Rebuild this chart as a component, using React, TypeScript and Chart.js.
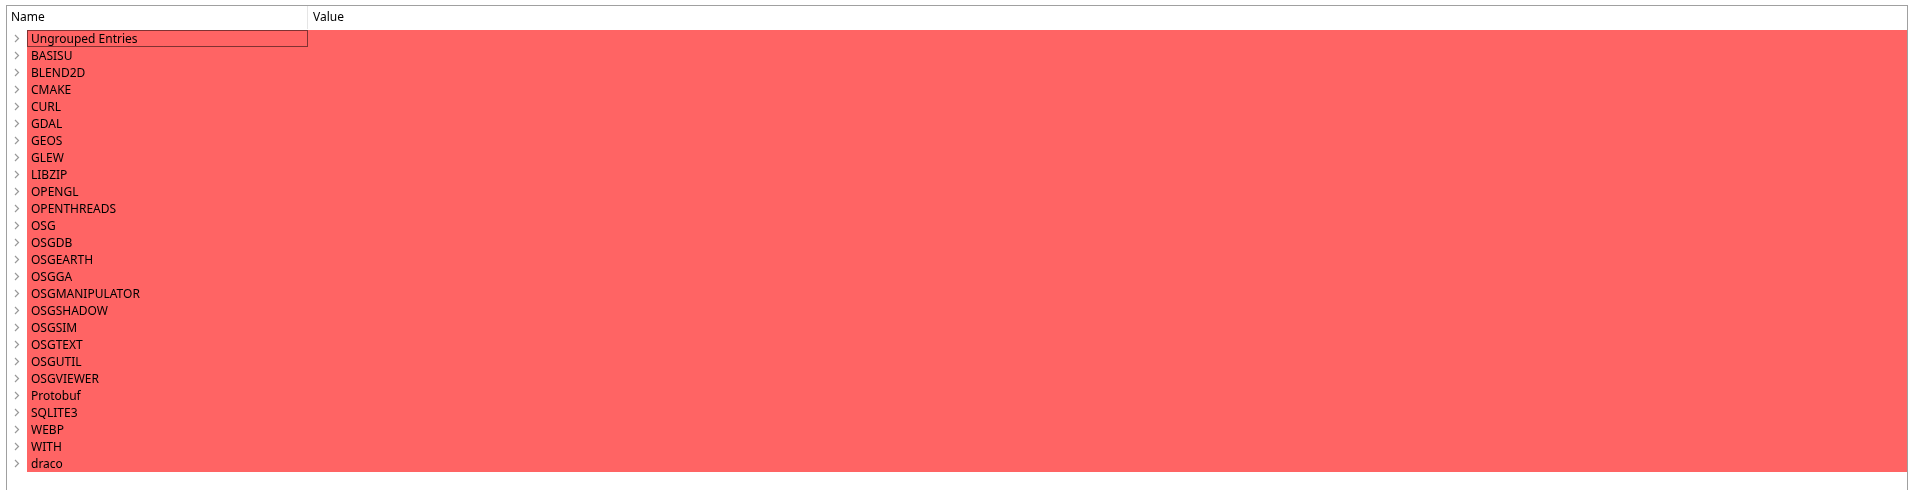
import { useEffect, useRef } from "react"
import { Chart, registerables } from "chart.js"

Chart.register(...registerables)

const entryNames = [
  "Ungrouped Entries", "BASISU", "BLEND2D", "CMAKE", "CURL", "GDAL", "GEOS", "GLEW", "LIBZIP",
  "OPENGL", "OPENTHREADS", "OSG", "OSGDB", "OSGEARTH", "OSGGA", "OSGMANIPULATOR", "OSGSHADOW",
  "OSGSIM", "OSGTEXT", "OSGUTIL", "OSGVIEWER", "Protobuf", "SQLITE3", "WEBP", "WITH", "draco",
]
const entryValues = entryNames.map(() => 1)
const columnTitles = ["Name", "Value"]

const FONT = '12px "Noto Sans", "Open Sans", sans-serif'

const treePlugin = {
  id: "tree",
  beforeDraw(chart) {
    const { ctx, width, height } = chart
    ctx.save()
    ctx.fillStyle = "#fff"
    ctx.fillRect(0, 0, width, height)
    ctx.restore()
  },
  afterDatasetsDraw(chart) {
    const { ctx, width, height } = chart
    const y = chart.scales.y
    ctx.save()
    // frame
    ctx.strokeStyle = "#a0a0a0"
    ctx.lineWidth = 1
    ctx.strokeRect(6.5, 5.5, width - 12, height)
    // header
    ctx.strokeStyle = "#e5e5e5"
    ctx.beginPath()
    ctx.moveTo(307.5, 6)
    ctx.lineTo(307.5, 29)
    ctx.stroke()
    ctx.font = FONT
    ctx.fillStyle = "#000"
    ctx.textBaseline = "middle"
    ctx.fillText(columnTitles[0], 11, 18)
    ctx.fillText(columnTitles[1], 313, 18)
    // rows
    entryNames.forEach((name, i) => {
      const cy = y.getPixelForValue(i)
      ctx.fillStyle = "#000"
      ctx.fillText(name, 31, cy + 1)
      ctx.strokeStyle = "#999"
      ctx.lineWidth = 1.2
      ctx.beginPath()
      ctx.moveTo(15, cy - 3.5)
      ctx.lineTo(18.5, cy)
      ctx.lineTo(15, cy + 3.5)
      ctx.stroke()
    })
    // focus rectangle
    const top = y.getPixelForValue(0) - 8.5
    ctx.strokeStyle = "#000"
    ctx.lineWidth = 1
    ctx.setLineDash([1, 1])
    ctx.strokeRect(27.5, Math.round(top) + 0.5, 280, 16)
    ctx.restore()
  },
}

export default function App() {
  const chartRef = useRef(null)
  const chartInstance = useRef(null)

  useEffect(() => {
    document.body.style.margin = "0"
    if (chartRef.current) {
      if (chartInstance.current) chartInstance.current.destroy()
      chartInstance.current = new Chart(chartRef.current.getContext("2d"), {
        type: "bar",
        data: {
          labels: entryNames,
          datasets: [
            {
              data: entryValues,
              backgroundColor: "#ff6464",
              barPercentage: 1,
              categoryPercentage: 1,
            },
          ],
        },
        options: {
          indexAxis: "y",
          animation: false,
          responsive: true,
          maintainAspectRatio: false,
          layout: { padding: { left: 27, top: 30, right: 6, bottom: 18 } },
          plugins: { legend: { display: false }, tooltip: { enabled: false } },
          scales: {
            x: { display: false, min: 0, max: 1 },
            y: { display: false },
          },
        },
        plugins: [treePlugin],
      })
    }
    return () => {
      if (chartInstance.current) chartInstance.current.destroy()
    }
  }, [])

  return (
    <div style={{ width: 1913, height: 490 }}>
      <canvas ref={chartRef} />
    </div>
  )
}
